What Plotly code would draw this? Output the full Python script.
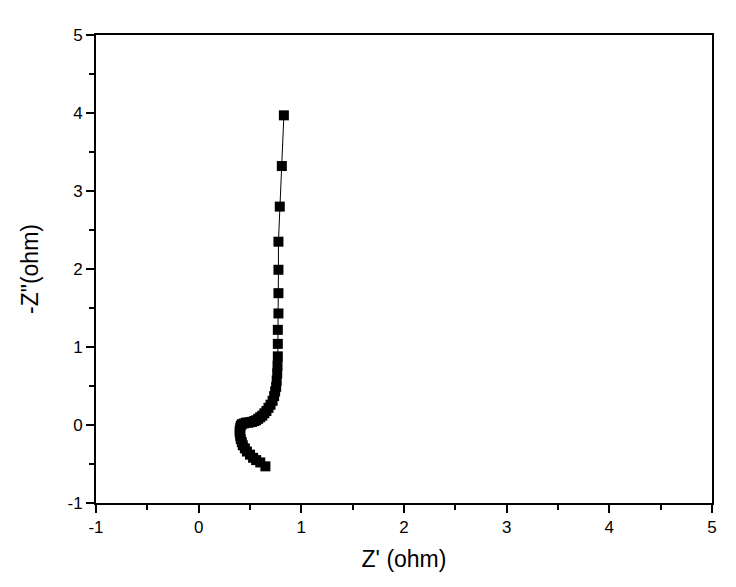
import plotly.graph_objects as go

# Nyquist data
z_real = [0.83, 0.81, 0.79, 0.777, 0.777, 0.777, 0.777, 0.771, 0.771, 0.771,
          0.768, 0.765, 0.76, 0.755, 0.745, 0.735, 0.72, 0.70, 0.68, 0.66,
          0.64, 0.62, 0.60, 0.58, 0.56, 0.54, 0.52, 0.50, 0.48, 0.46,
          0.44, 0.42, 0.41, 0.405, 0.40, 0.40, 0.405, 0.41, 0.42, 0.43,
          0.45, 0.47, 0.50, 0.53, 0.56, 0.60, 0.65]
z_imag = [3.97, 3.32, 2.80, 2.35, 1.99, 1.69, 1.43, 1.22, 1.04, 0.88,
          0.76, 0.66, 0.57, 0.49, 0.43, 0.37, 0.31, 0.26, 0.22, 0.18,
          0.15, 0.12, 0.10, 0.08, 0.06, 0.05, 0.04, 0.035, 0.03, 0.03,
          0.02, 0.01, -0.01, -0.04, -0.07, -0.10, -0.14, -0.18, -0.22, -0.26,
          -0.30, -0.34, -0.38, -0.42, -0.45, -0.48, -0.53]

tick_vals = [-1, 0, 1, 2, 3, 4, 5]
tick_text = ["-1", "0", "1", "2", "3", "4", "5"]

font = "Liberation Sans, Arial, sans-serif"

fig = go.Figure(go.Scatter(
    x=z_real, y=z_imag, mode="lines+markers",
    line=dict(color="black", width=1),
    marker=dict(symbol="square", size=10, color="black"),
    showlegend=False,
))

axis = dict(
    range=[-1, 5], tickvals=tick_vals, ticktext=tick_text,
    showgrid=False, zeroline=False,
    showline=True, linecolor="black", linewidth=2, mirror=True,
    ticks="outside", ticklen=8, tickwidth=2, tickcolor="black",
    minor=dict(tickvals=[-0.5, 0.5, 1.5, 2.5, 3.5, 4.5], ticks="outside",
               ticklen=5, tickwidth=2, tickcolor="black"),
)

fig.update_layout(
    width=736, height=587,
    margin=dict(l=88, r=32, t=27, b=92),
    plot_bgcolor="white", paper_bgcolor="white",
)
fig.update_xaxes(axis, title=dict(text="Z' (ohm)", font=dict(family=font, size=23, color="black"), standoff=14))
fig.update_yaxes(axis, title=dict(text='-Z"(ohm)', font=dict(family=font, size=23, color="black"), standoff=22))
fig.update_xaxes(tickfont=dict(family=font, size=17, color="black"))
fig.update_yaxes(tickfont=dict(family=font, size=17, color="black"))

fig.write_html("out.html")
